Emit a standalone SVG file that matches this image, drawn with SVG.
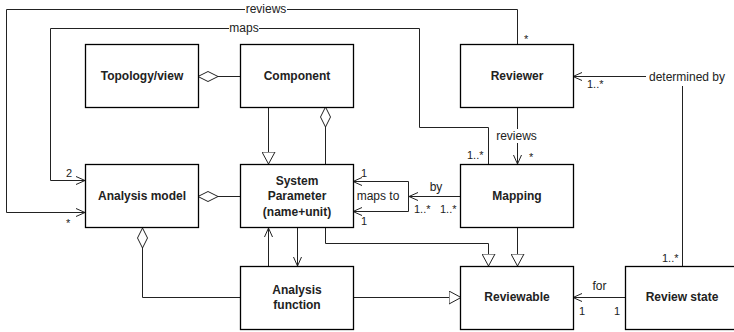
<svg xmlns="http://www.w3.org/2000/svg" width="734" height="332" viewBox="0 0 734 332">
<style>
.box{fill:#fff;stroke:#000;stroke-width:1.3}
.nt{font-family:"Liberation Sans",Arial,sans-serif;font-weight:bold;font-size:12px;text-anchor:middle;fill:#222}
.c{fill:none;stroke:#222;stroke-width:1}
.lbl{font-family:"Liberation Sans",Arial,sans-serif;font-size:12px;fill:#222}
.m{font-family:"Liberation Sans",Arial,sans-serif;font-size:11px;fill:#222}
.bg{fill:#fff}
</style>
<defs>
<marker id="arrow" viewBox="0 0 9 10" refX="9" refY="5" markerWidth="9" markerHeight="10" markerUnits="userSpaceOnUse" orient="auto-start-reverse">
<path d="M0,1 L9,5 L0,9" fill="none" stroke="#222" stroke-width="1"/>
</marker>
<marker id="tri" viewBox="0 0 13 14" refX="12.5" refY="7" markerWidth="13" markerHeight="14" markerUnits="userSpaceOnUse" orient="auto">
<path d="M0.5,0.5 L12.5,7 L0.5,13.5 Z" fill="#fff" stroke="#222" stroke-width="1"/>
</marker>
<marker id="dia" viewBox="0 0 21 12" refX="0.5" refY="6" markerWidth="21" markerHeight="12" markerUnits="userSpaceOnUse" orient="auto">
<path d="M0.5,6 L10.5,1 L20.5,6 L10.5,11 Z" fill="#fff" stroke="#222" stroke-width="1"/>
</marker>
</defs>
<g id="connectors">
<path class="c" d="M198,76.5 L241,76.5" marker-start="url(#dia)"/>
<path class="c" d="M268.5,107 L268.5,164" marker-end="url(#tri)"/>
<path class="c" d="M325.5,107 L325.5,164" marker-start="url(#dia)"/>
<path class="c" d="M198,196.5 L241,196.5" marker-start="url(#dia)"/>
<path class="c" d="M142.5,228 L142.5,297.5 L241,297.5" marker-start="url(#dia)"/>
<path class="c" d="M268.5,266 L268.5,228" marker-end="url(#arrow)"/>
<path class="c" d="M297.5,228 L297.5,266" marker-end="url(#arrow)"/>
<path class="c" d="M325.5,228 L325.5,243.5 L488.5,243.5 L488.5,266" marker-end="url(#tri)"/>
<path class="c" d="M353,297.5 L461,297.5" marker-end="url(#tri)"/>
<path class="c" d="M517.5,228 L517.5,266" marker-end="url(#tri)"/>
<path class="c" d="M626,297.5 L573,297.5" marker-end="url(#arrow)"/>
<path class="c" d="M353,181.5 L408.5,181.5 L408.5,211.5 L353,211.5" marker-start="url(#arrow)" marker-end="url(#arrow)"/>
<path class="c" d="M461,196.5 L409,196.5" marker-end="url(#arrow)"/>
<path class="c" d="M517.5,107 L517.5,164" marker-end="url(#arrow)"/>
<path class="c" d="M517.5,44 L517.5,9.5 L6.5,9.5 L6.5,212.5 L85,212.5" marker-end="url(#arrow)"/>
<path class="c" d="M488.5,164 L488.5,127.5 L419.5,127.5 L419.5,28.5 L50.5,28.5 L50.5,180.5 L85,180.5" marker-end="url(#arrow)"/>
<path class="c" d="M682.5,266 L682.5,76.5 L573,76.5" marker-end="url(#arrow)"/>
<rect class="bg" x="245" y="2" width="42" height="14"/>
<text class="lbl" x="266" y="13" text-anchor="middle">reviews</text>
<rect class="bg" x="229" y="21" width="30" height="14"/>
<text class="lbl" x="244" y="32" text-anchor="middle">maps</text>
<rect class="bg" x="495" y="129" width="43" height="14"/>
<text class="lbl" x="516.5" y="140" text-anchor="middle">reviews</text>
<rect class="bg" x="646" y="68" width="83" height="18"/>
<text class="lbl" x="687" y="81" text-anchor="middle">determined by</text>
<text class="lbl" x="378" y="200" text-anchor="middle">maps to</text>
<text class="lbl" x="436" y="191" text-anchor="middle">by</text>
<text class="lbl" x="599.5" y="290" text-anchor="middle">for</text>
<text class="m" x="66" y="177">2</text>
<text class="m" x="66" y="227">*</text>
<text class="m" x="524" y="43">*</text>
<text class="m" x="467" y="159">1..*</text>
<text class="m" x="529" y="161">*</text>
<text class="m" x="587" y="88">1..*</text>
<text class="m" x="662" y="262">1..*</text>
<text class="m" x="361" y="177">1</text>
<text class="m" x="361" y="225">1</text>
<text class="m" x="414" y="213">1..*</text>
<text class="m" x="440" y="213">1..*</text>
<text class="m" x="579" y="315">1</text>
<text class="m" x="614" y="315">1</text>
</g>
<g id="topology">
<rect class="box" x="85.5" y="44.5" width="113" height="63"/>
<text class="nt" x="142" y="80">Topology/view</text>
</g>
<g id="component">
<rect class="box" x="240.5" y="44.5" width="113" height="63"/>
<text class="nt" x="297" y="80">Component</text>
</g>
<g id="reviewer">
<rect class="box" x="460.5" y="44.5" width="113" height="63"/>
<text class="nt" x="517" y="80">Reviewer</text>
</g>
<g id="analysis-model">
<rect class="box" x="85.5" y="164.5" width="113" height="63"/>
<text class="nt" x="142" y="200">Analysis model</text>
</g>
<g id="system-parameter">
<rect class="box" x="240.5" y="164.5" width="113" height="63"/>
<text class="nt" x="297" y="185">System</text>
<text class="nt" x="297" y="200">Parameter</text>
<text class="nt" x="297" y="216">(name+unit)</text>
</g>
<g id="mapping">
<rect class="box" x="460.5" y="164.5" width="113" height="63"/>
<text class="nt" x="517" y="200">Mapping</text>
</g>
<g id="analysis-function">
<rect class="box" x="240.5" y="266.5" width="113" height="63"/>
<text class="nt" x="297" y="294">Analysis</text>
<text class="nt" x="297" y="309">function</text>
</g>
<g id="reviewable">
<rect class="box" x="460.5" y="266.5" width="113" height="63"/>
<text class="nt" x="517" y="301">Reviewable</text>
</g>
<g id="review-state">
<rect class="box" x="625.5" y="266.5" width="113" height="63"/>
<text class="nt" x="682" y="301">Review state</text>
</g>
</svg>
